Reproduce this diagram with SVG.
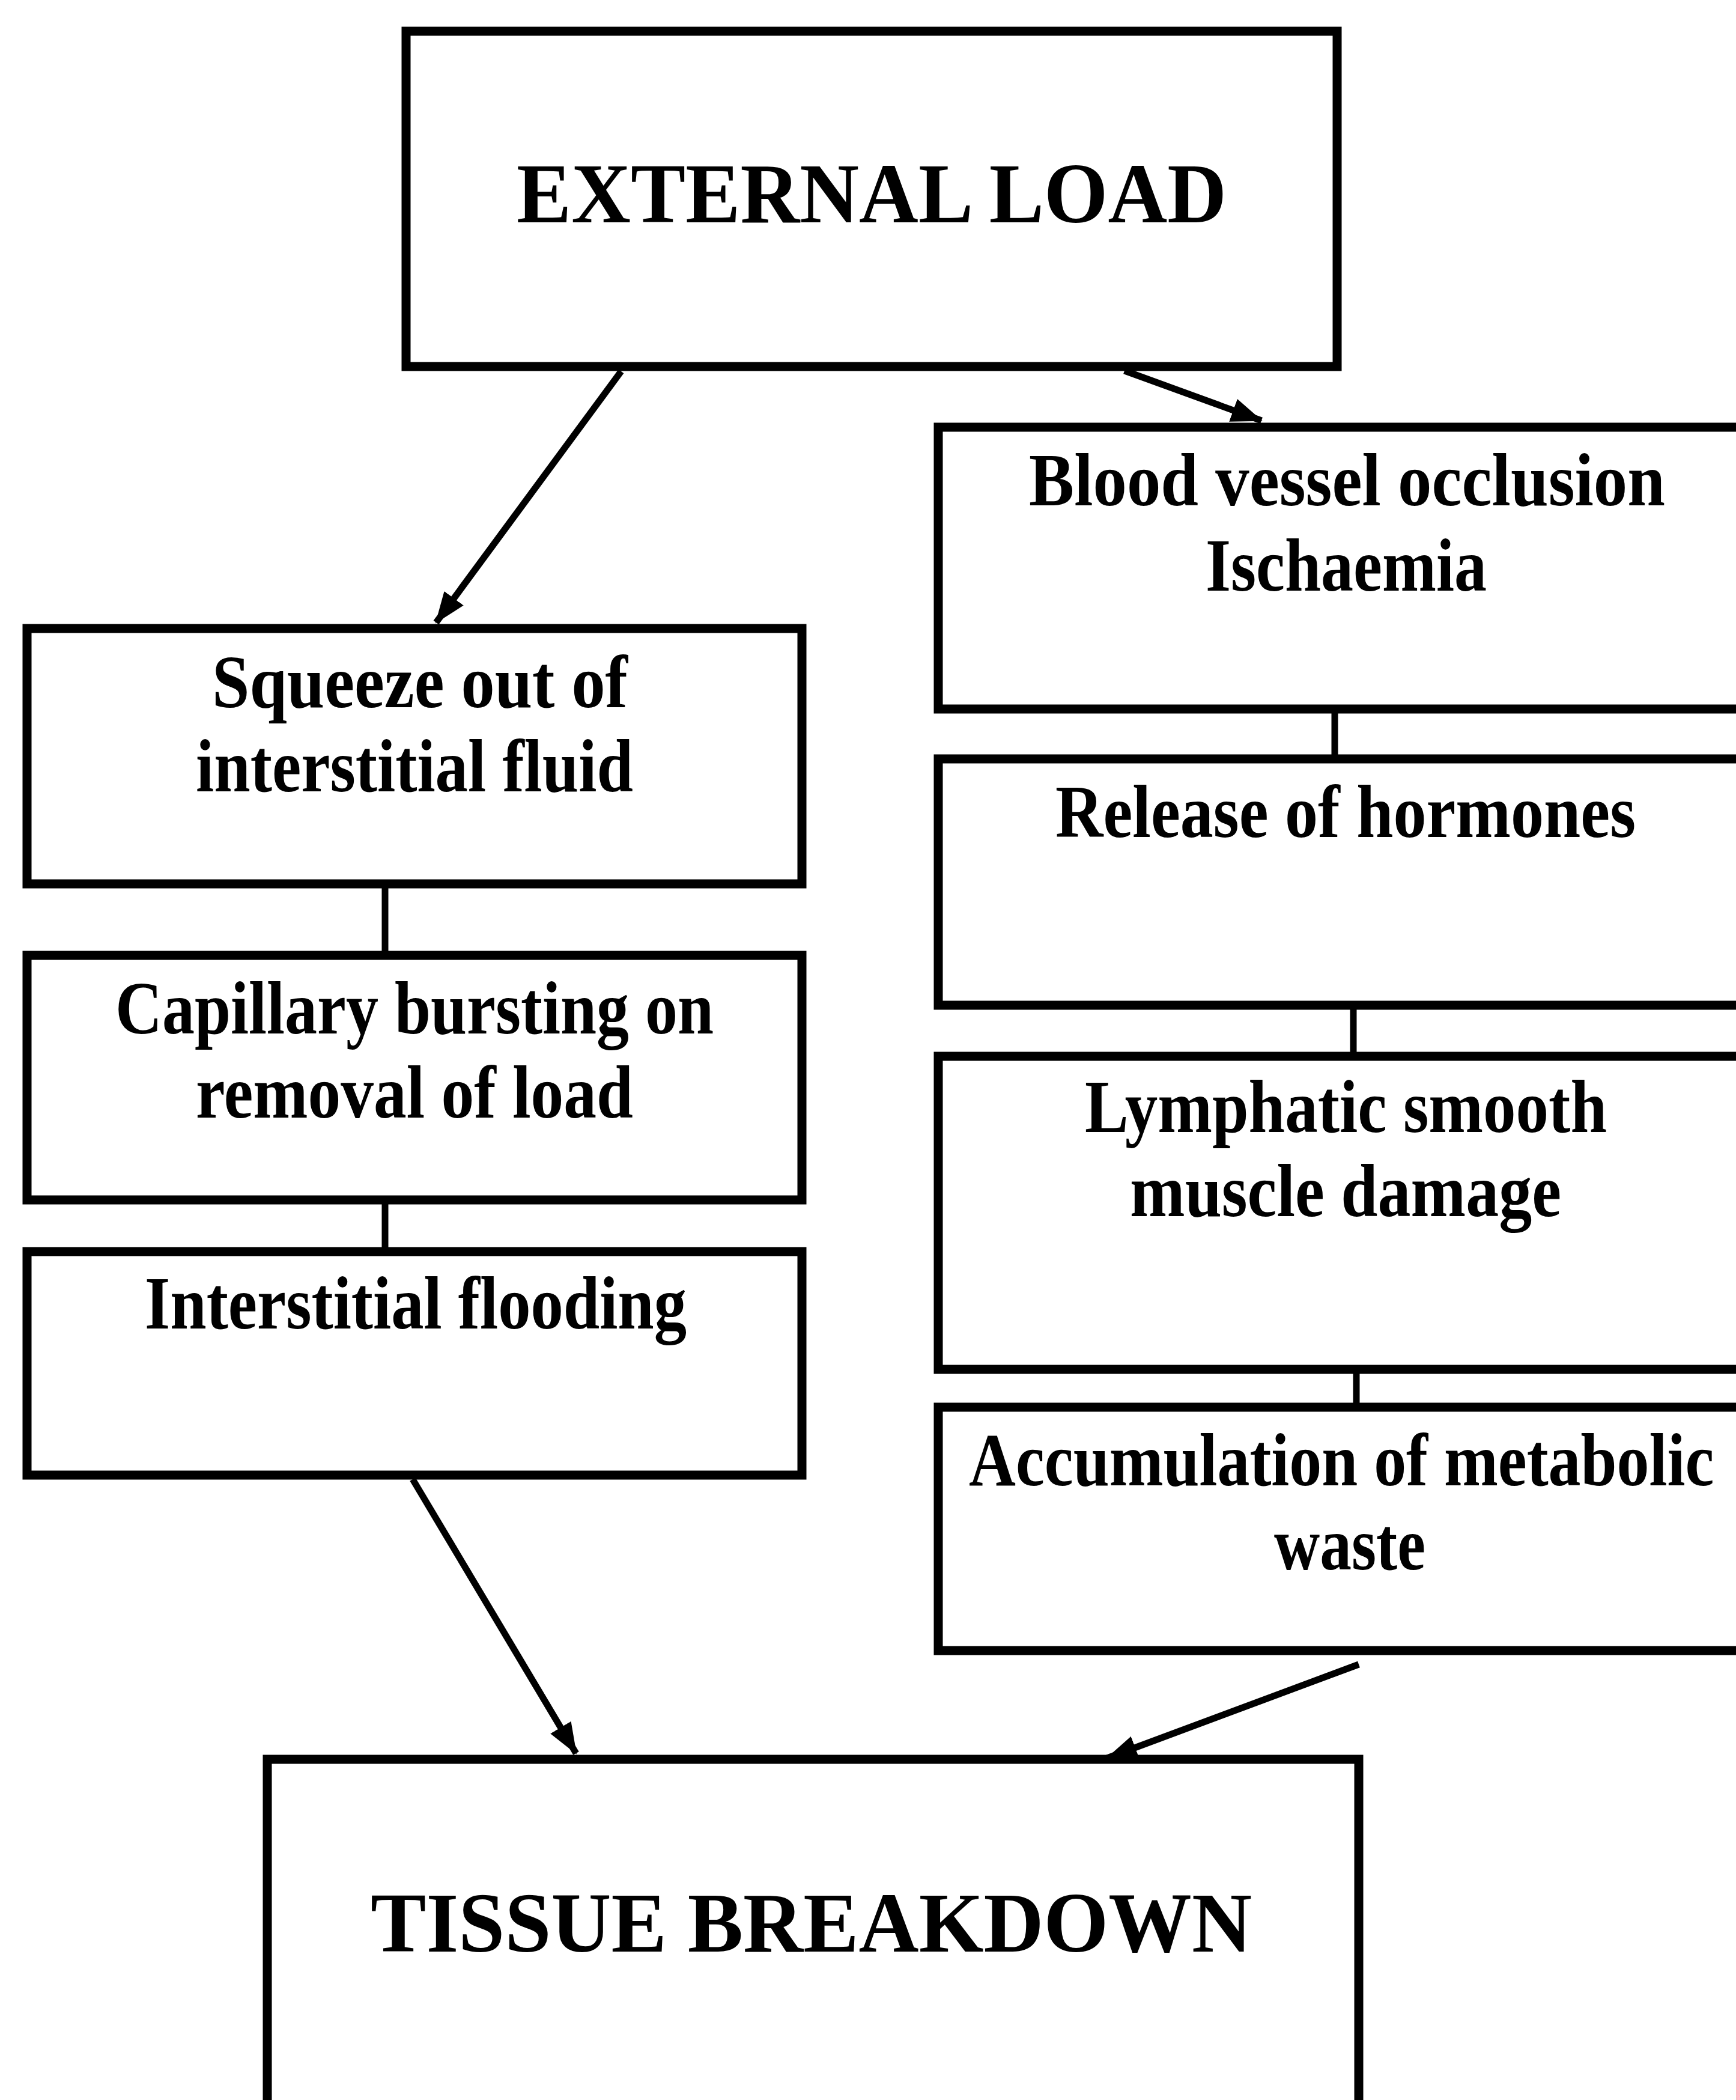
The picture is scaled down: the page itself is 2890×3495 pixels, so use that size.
<svg xmlns="http://www.w3.org/2000/svg" width="2890" height="3495" viewBox="0 0 2890 3495">
<style>
.box{fill:#fff;stroke:#000;stroke-width:15}
.t{font-family:"Liberation Serif","Times New Roman",serif;font-weight:bold;font-size:124px;fill:#000}
.h{font-family:"Liberation Serif","Times New Roman",serif;font-weight:bold;font-size:142px;fill:#000}
.c{fill:none;stroke:#000;stroke-width:11}
</style>
<defs>
<marker id="ah" markerUnits="userSpaceOnUse" markerWidth="56" markerHeight="44" refX="50" refY="20" orient="auto">
<path d="M0,0 L52,20 L0,40 z" fill="#000"/>
</marker>
</defs>
<rect width="2890" height="3495" fill="#fff"/>
<g id="connectors">
<path class="c" d="M1034,618 L726,1036" marker-end="url(#ah)"/>
<path class="c" d="M1872,617 L2100,700" marker-end="url(#ah)"/>
<path class="c" d="M641,1478 V1590"/>
<path class="c" d="M641,2004 V2083"/>
<path class="c" d="M2222,1187 V1263"/>
<path class="c" d="M2253,1680 V1758"/>
<path class="c" d="M2258,2286 V2365"/>
<path class="c" d="M687,2462 L959,2918" marker-end="url(#ah)"/>
<path class="c" d="M2262,2770 L1843,2926" marker-end="url(#ah)"/>
</g>
<g id="external-load">
<rect class="box" x="676" y="52" width="1550" height="558"/>
<text class="h" x="860" y="370" textLength="1182" lengthAdjust="spacingAndGlyphs">EXTERNAL LOAD</text>
</g>
<g id="squeeze">
<rect class="box" x="45" y="1046" width="1290" height="425"/>
<text class="t" x="353" y="1177" textLength="692" lengthAdjust="spacingAndGlyphs">Squeeze out of</text>
<text class="t" x="326" y="1317" textLength="728" lengthAdjust="spacingAndGlyphs">interstitial fluid</text>
</g>
<g id="capillary">
<rect class="box" x="45" y="1590" width="1290" height="407"/>
<text class="t" x="192" y="1720" textLength="996" lengthAdjust="spacingAndGlyphs">Capillary bursting on</text>
<text class="t" x="326" y="1860" textLength="728" lengthAdjust="spacingAndGlyphs">removal of load</text>
</g>
<g id="flooding">
<rect class="box" x="45" y="2083" width="1290" height="372"/>
<text class="t" x="241" y="2211" textLength="902" lengthAdjust="spacingAndGlyphs">Interstitial flooding</text>
</g>
<g id="blood-vessel">
<rect class="box" x="1562" y="711" width="1400" height="469"/>
<text class="t" x="1713" y="841" textLength="1059" lengthAdjust="spacingAndGlyphs">Blood vessel occlusion</text>
<text class="t" x="2007" y="983" textLength="468" lengthAdjust="spacingAndGlyphs">Ischaemia</text>
</g>
<g id="hormones">
<rect class="box" x="1562" y="1263" width="1400" height="410"/>
<text class="t" x="1757" y="1393" textLength="966" lengthAdjust="spacingAndGlyphs">Release of hormones</text>
</g>
<g id="lymphatic">
<rect class="box" x="1562" y="1758" width="1400" height="521"/>
<text class="t" x="1806" y="1884" textLength="869" lengthAdjust="spacingAndGlyphs">Lymphatic smooth</text>
<text class="t" x="1881" y="2024" textLength="718" lengthAdjust="spacingAndGlyphs">muscle damage</text>
</g>
<g id="metabolic">
<rect class="box" x="1562" y="2342" width="1400" height="405"/>
<text class="t" transform="translate(1613,2472) scale(0.87,1)" x="0" y="0">Accumulation of metabolic</text>
<text class="t" x="2121" y="2612" textLength="252" lengthAdjust="spacingAndGlyphs">waste</text>
</g>
<g id="tissue-breakdown">
<rect class="box" x="445" y="2928" width="1817" height="700"/>
<text class="h" x="617" y="3248" textLength="1467" lengthAdjust="spacingAndGlyphs">TISSUE BREAKDOWN</text>
</g>
</svg>
